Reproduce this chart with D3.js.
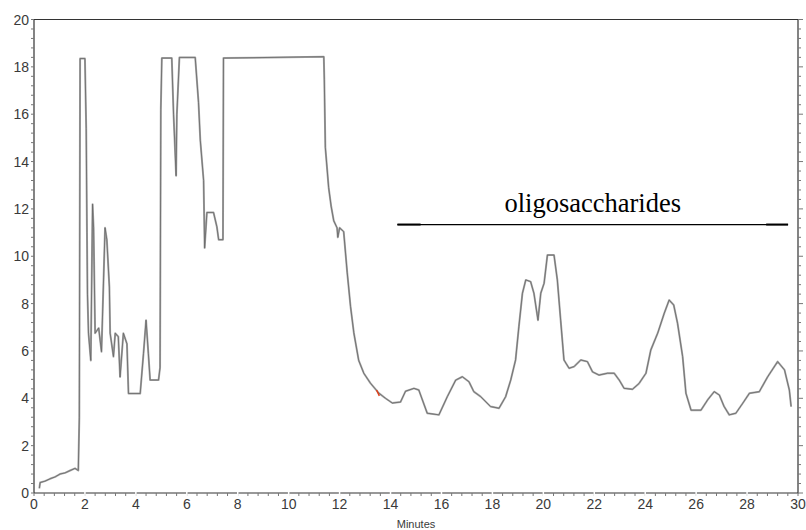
<!DOCTYPE html>
<html>
<head>
<meta charset="utf-8">
<script src="https://cdn.jsdelivr.net/npm/d3@7"></script>
<style>
  body { margin: 0; background: #fff; }
  svg { display: block; }
  .tick-label { font-family: "Liberation Sans", Arial, sans-serif; font-size: 14px; fill: #3a3a3a; }
</style>
</head>
<body>
<div class="svg-container"></div>
<script>
// chromatogram trace
const minutes = [0.21, 0.24, 0.43, 0.63, 0.83, 1.02, 1.22, 1.42, 1.61, 1.74, 1.78, 1.81, 2.0, 2.05, 2.08, 2.1, 2.14, 2.23,
  2.3, 2.34, 2.4, 2.54, 2.65, 2.79, 2.86, 2.96, 2.99, 3.12, 3.19, 3.31, 3.38, 3.51, 3.65, 3.71, 4.17, 4.3, 4.4, 4.49,
  4.56, 4.89, 4.95, 4.98, 5.02, 5.41, 5.48, 5.58, 5.61, 5.71, 6.33, 6.46, 6.53, 6.66, 6.68, 6.7, 6.79, 7.05, 7.18, 7.25,
  7.42, 7.44, 11.38, 11.4, 11.44, 11.57, 11.67, 11.77, 11.9, 11.93, 12.0, 12.16, 12.3, 12.43, 12.56, 12.75, 12.95,
  13.21, 13.54, 13.8, 14.07, 14.39, 14.59, 14.92, 15.11, 15.44, 15.9, 16.23, 16.56, 16.82, 17.08, 17.27, 17.54, 17.93,
  18.26, 18.52, 18.72, 18.91, 19.04, 19.18, 19.31, 19.5, 19.63, 19.79, 19.9, 20.03, 20.16, 20.42, 20.55, 20.68, 20.81,
  21.01, 21.21, 21.47, 21.73, 21.93, 22.19, 22.52, 22.78, 22.98, 23.17, 23.5, 23.76, 24.03, 24.22, 24.49, 24.75, 24.94,
  25.12, 25.27, 25.47, 25.6, 25.8, 26.19, 26.45, 26.71, 26.91, 27.1, 27.3, 27.56, 27.83, 28.09, 28.48, 28.81, 29.2,
  29.47, 29.66, 29.73];
const signal = [0.2, 0.44, 0.5, 0.6, 0.68, 0.8, 0.85, 0.95, 1.04, 0.95, 3.2, 18.35, 18.35, 15.4, 11, 8.4, 6.75, 5.6,
  12.2, 11.2, 6.75, 6.97, 5.97, 11.2, 10.7, 8.7, 6.75, 5.76, 6.75, 6.6, 4.9, 6.75, 6.3, 4.2, 4.2, 5.9, 7.3, 5.9,
  4.77, 4.77, 5.3, 16.2, 18.37, 18.37, 16.0, 13.4, 16.0, 18.4, 18.4, 16.5, 14.9, 13.2, 11.8, 10.35, 11.85, 11.85, 11.25, 10.7,
  10.7, 18.37, 18.43, 17.45, 14.6, 12.9, 12.1, 11.5, 11.2, 10.8, 11.2, 11.04, 9.3, 7.87, 6.76, 5.6, 5.06,
  4.64, 4.22, 4.0, 3.8, 3.84, 4.3, 4.42, 4.35, 3.37, 3.3, 4.07, 4.77, 4.91, 4.7, 4.28, 4.07, 3.65,
  3.58, 4.07, 4.77, 5.62, 7.03, 8.44, 9.0, 8.93, 8.44, 7.3, 8.44, 8.86, 10.05, 10.05, 9.0, 7.3, 5.62,
  5.27, 5.34, 5.62, 5.55, 5.12, 4.98, 5.06, 5.06, 4.77, 4.42, 4.38, 4.63, 5.06, 6.04, 6.75, 7.6, 8.15,
  7.94, 7.17, 5.76, 4.21, 3.5, 3.5, 3.93, 4.28, 4.14, 3.65, 3.3, 3.37, 3.79, 4.21, 4.28, 4.91, 5.55,
  5.2, 4.35, 3.65];

// little red blip on the tail
const redMinutes = [13.45, 13.56];
const redSignal = [4.35, 4.1];

// annotation
const annoLabel = "oligosaccharides";
const annoRange = [14.27, 29.61];
const annoEnds = [[14.27, 15.18], [28.75, 29.61]];
const annoLevel = 11.34;
const annoTextPos = [21.94, 11.87];

const xTicks = d3.range(0, 31, 2);
const yTicks = d3.range(0, 21, 2);
const xMinor = d3.range(0, 30.01, 0.4);
const yMinor = d3.range(0, 20.01, 0.4);

const w = 806;
const h = 530;
const margin = {top: 19.5, right: 8, bottom: 37, left: 34};

const svg = d3.select(".svg-container")
  .append("svg")
  .attr("width", w)
  .attr("height", h)
  .attr("viewBox", `0 0 ${w} ${h}`);

const x = d3.scaleLinear().domain([0, 30]).range([margin.left, w - margin.right]);
const y = d3.scaleLinear().domain([0, 20]).range([h - margin.bottom, margin.top]);

const line = d3.line().x(d => x(d[0])).y(d => y(d[1]));

// frame
svg.append("path")
  .attr("d", line([[0, 0], [0, 20], [30, 20], [30, 0], [0, 0]]))
  .style("fill", "none").style("stroke", "#333").style("stroke-width", 1.2);

// minor ticks
const ticksG = svg.append("g").style("stroke", "#777").style("stroke-width", 1);
ticksG.selectAll(".ym").data(yMinor).enter().append("line")
  .attr("x1", x(0) - 3).attr("x2", x(0))
  .attr("y1", d => y(d)).attr("y2", d => y(d));
ticksG.selectAll(".yr").data(yMinor).enter().append("line")
  .attr("x1", x(30)).attr("x2", d => x(30) + (Math.abs(d % 2) < 0.01 || Math.abs(d % 2 - 2) < 0.01 ? 5 : 3))
  .attr("y1", d => y(d)).attr("y2", d => y(d));
ticksG.selectAll(".xm").data(xMinor).enter().append("line")
  .attr("x1", d => x(d)).attr("x2", d => x(d))
  .attr("y1", y(0)).attr("y2", y(0) + 3);

// white gaps at major ticks on the bottom axis
svg.selectAll(".xgap").data(xTicks.slice(1, -1)).enter().append("line")
  .attr("x1", d => x(d)).attr("x2", d => x(d))
  .attr("y1", y(0) - 1).attr("y2", y(0) + 4)
  .style("stroke", "#fff").style("stroke-width", 1.5);

// tick labels
svg.selectAll(".yl").data(yTicks).enter().append("text")
  .attr("class", "tick-label")
  .attr("x", x(0) - 5)
  .attr("y", d => y(d))
  .attr("dy", "0.36em")
  .attr("text-anchor", "end")
  .text(d => d);

svg.selectAll(".xl").data(xTicks).enter().append("text")
  .attr("class", "tick-label")
  .attr("x", d => x(d))
  .attr("y", y(0) + 16)
  .attr("text-anchor", "middle")
  .text(d => d);

svg.append("text")
  .attr("x", x(15))
  .attr("y", h - 2)
  .attr("text-anchor", "middle")
  .style("font-family", "Liberation Sans, Arial, sans-serif")
  .style("font-size", "11px")
  .style("fill", "#3a3a3a")
  .text("Minutes");

// trace
const trace = d3.zip(minutes, signal);
svg.append("path")
  .attr("d", line(trace))
  .style("fill", "none")
  .style("stroke", "#aaa")
  .style("stroke-width", 2)
  .style("stroke-linejoin", "round");
svg.append("path")
  .attr("d", line(trace))
  .style("fill", "none")
  .style("stroke", "#666")
  .style("stroke-width", 0.8)
  .style("stroke-linejoin", "round");

svg.append("path")
  .attr("d", line(d3.zip(redMinutes, redSignal)))
  .style("fill", "none").style("stroke", "#e0401a").style("stroke-width", 1.5);

// annotation
svg.append("path")
  .attr("d", line(annoRange.map(t => [t, annoLevel])))
  .style("stroke", "#000").style("stroke-width", 1.2);
annoEnds.forEach(e => {
  svg.append("path")
    .attr("d", line(e.map(t => [t, annoLevel])))
    .style("stroke", "#000").style("stroke-width", 2);
});
svg.append("text")
  .attr("x", x(annoTextPos[0]))
  .attr("y", y(annoTextPos[1]))
  .attr("text-anchor", "middle")
  .style("font-family", "Liberation Serif, Times New Roman, serif")
  .style("font-size", "26.5px")
  .style("fill", "#000")
  .text(annoLabel);
</script>
</body>
</html>
